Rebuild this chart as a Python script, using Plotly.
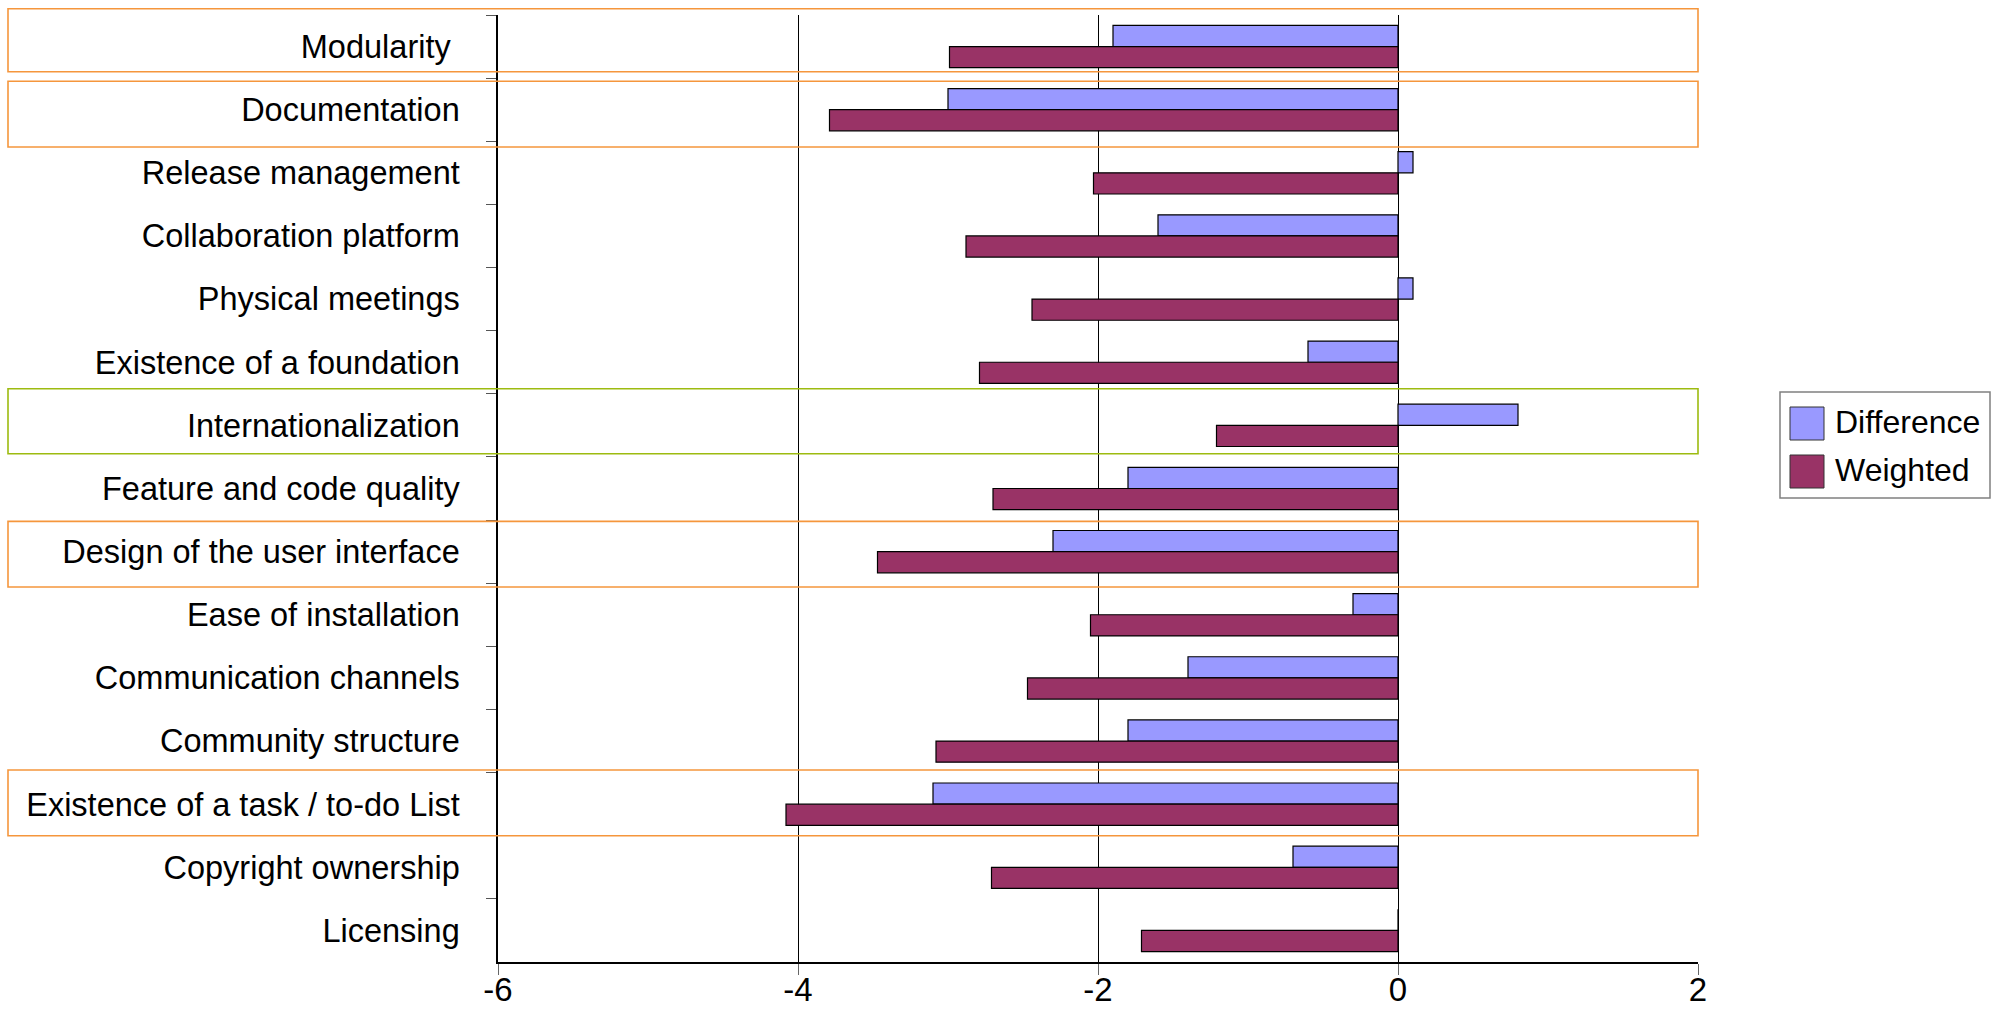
import plotly.graph_objects as go

# ---------------- data ----------------
CATEGORIES = [
    "Modularity\u00a0",
    "Documentation",
    "Release management",
    "Collaboration platform",
    "Physical meetings",
    "Existence of a foundation",
    "Internationalization",
    "Feature and code quality",
    "Design of the user interface",
    "Ease of installation",
    "Communication channels",
    "Community structure",
    "Existence of a task / to-do List",
    "Copyright ownership",
    "Licensing",
]
DIFFERENCE = [-1.9, -3.0, 0.1, -1.6, 0.1, -0.6, 0.8, -1.8, -2.3, -0.3, -1.4, -1.8, -3.1, -0.7, 0.0]
WEIGHTED = [-2.99, -3.79, -2.03, -2.88, -2.44, -2.79, -1.21, -2.7, -3.47, -2.05, -2.47, -3.08, -4.08, -2.71, -1.71]
SERIES_NAMES = ["Difference", "Weighted"]
X_TICKS = [-6, -4, -2, 0, 2]
X_TICK_LABELS = ["-6", "-4", "-2", "0", "2"]

# highlighted rows: (category index, colour, top offset, bottom offset) in category units
HIGHLIGHTS = [
    (0, "#F5963C", -0.60, 0.40),
    (1, "#F5963C", -0.45, 0.59),
    (6, "#9DBB10", -0.58, 0.45),
    (8, "#F5963C", -0.48, 0.56),
    (12, "#F5963C", -0.54, 0.50),
]

COLORS = ["#9999FF", "#993366"]
FONT = "Liberation Sans, Arial, sans-serif"
NARROW = "Liberation Sans Narrow, Arial Narrow, Liberation Sans, sans-serif"
FS = 32.5
W, H = 1992, 1012
L, R, T, B = 498, 294, 15, 50
N = len(CATEGORIES)

fig = go.Figure()
for name, vals, col in zip(SERIES_NAMES, [DIFFERENCE, WEIGHTED], COLORS):
    fig.add_trace(go.Bar(
        y=CATEGORIES, x=vals, name=name, orientation="h",
        marker=dict(color=col, line=dict(color="black", width=1.2)),
        showlegend=False,
    ))


def cat_to_paper(v):
    # category axis runs reversed from -0.5 (top) to N-0.5 (bottom)
    return 1 - (v + 0.5) / N


shapes = []
for idx, col, top, bot in HIGHLIGHTS:
    shapes.append(dict(
        type="rect", xref="paper", yref="paper",
        x0=(8 - L) / (W - L - R), x1=1.0,
        y0=cat_to_paper(idx + bot), y1=cat_to_paper(idx + top),
        line=dict(color=col, width=1.6), fillcolor="rgba(0,0,0,0)",
        layer="above",
    ))

# manual legend (paper coords)
pw, ph = W - L - R, H - T - B
def px(x):
    return (x - L) / pw
def py(y):
    return (H - B - y) / ph

shapes.append(dict(type="rect", xref="paper", yref="paper",
                   x0=px(1780), x1=px(1990), y0=py(498), y1=py(392),
                   line=dict(color="#808080", width=1.5), fillcolor="white"))
annotations = []
for i, (name, col) in enumerate(zip(SERIES_NAMES, COLORS)):
    top = 407 + i * 48
    shapes.append(dict(type="rect", xref="paper", yref="paper",
                       x0=px(1790), x1=px(1824), y0=py(top + 33), y1=py(top),
                       line=dict(color="#333333", width=1), fillcolor=col))
    annotations.append(dict(xref="paper", yref="paper", x=px(1833), y=py(top + 15),
                            text=name, showarrow=False, xanchor="left", yanchor="middle",
                            font=dict(family=FONT, size=32, color="black")))

fig.update_layout(
    width=W, height=H,
    margin=dict(l=L, r=R, t=T, b=B, pad=0),
    paper_bgcolor="white", plot_bgcolor="white",
    barmode="group", bargap=0.33, bargroupgap=0,
    font=dict(family=FONT, size=FS, color="black"),
    shapes=shapes, annotations=annotations,
    showlegend=False,
    xaxis=dict(
        range=[-6, 2], tickvals=X_TICKS, ticktext=X_TICK_LABELS,
        showgrid=True, gridcolor="black", gridwidth=1,
        zeroline=False,
        showline=True, linecolor="black", linewidth=2,
        ticks="outside", ticklen=11, tickcolor="#666666", tickwidth=1,
        ticklabelstandoff=-14,
        automargin=False,
        tickfont=dict(family=NARROW, size=33, color="black"),
    ),
    yaxis=dict(
        type="category", range=[N - 0.5, -0.5],
        showgrid=False, zeroline=False,
        showline=True, linecolor="black", linewidth=1.5,
        ticks="outside", tickson="boundaries", ticklen=10, tickcolor="#555555",
        ticklabelstandoff=30,
        automargin=False,
        tickfont=dict(family=FONT, size=FS, color="black"),
    ),
)

fig.write_html(
    "out.html",
    config={"displayModeBar": False},
    post_script="document.body.style.margin='0';document.body.style.overflow='hidden';",
)
